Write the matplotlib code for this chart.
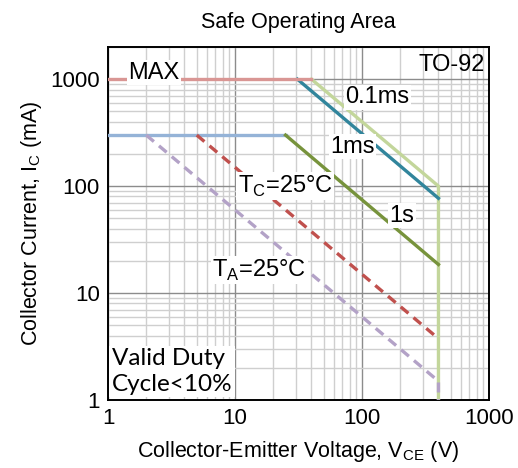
import numpy as np
import matplotlib
matplotlib.use("Agg")
import matplotlib.pyplot as plt
from matplotlib.ticker import LogLocator, FixedLocator, NullFormatter

plt.rcParams['font.family'] = ['Liberation Sans', 'DejaVu Sans']

# SOA boundary points (V_CE in V, I_C in mA)
max_v = [1, 40]
max_i = [1000, 1000]
dc_v = [1, 25]
dc_i = [300, 300]
t01ms_v = [40, 400, 400]
t01ms_i = [1000, 100, 1]
t1ms_v = [31, 400]
t1ms_i = [1000, 77]
t1s_v = [25, 400]
t1s_i = [300, 18.5]
tc_v = [5, 400]
tc_i = [300, 3.75]
ta_v = [2, 400, 400]
ta_i = [300, 1.5, 1]

fig = plt.figure(figsize=(5.18, 4.68), dpi=100)
ax = fig.add_axes([108/518, 68/468, 381/518, 353/468])
ax.set_xscale('log')
ax.set_yscale('log')
ax.set_xlim(1, 1000)
ax.set_ylim(1, 2000)

ax.xaxis.set_major_locator(FixedLocator([1, 10, 100, 1000]))
ax.yaxis.set_major_locator(FixedLocator([1, 10, 100, 1000]))
ax.xaxis.set_minor_locator(LogLocator(base=10, subs=np.arange(2, 10)))
ax.yaxis.set_minor_locator(LogLocator(base=10, subs=np.arange(2, 10)))
ax.xaxis.set_minor_formatter(NullFormatter())
ax.yaxis.set_minor_formatter(NullFormatter())
ax.set_xticklabels(['1', '10', '100', '1000'])
ax.set_yticklabels(['1', '10', '100', '1000'])
ax.tick_params(which='both', length=0, labelsize=16, pad=6)
ax.grid(which='major', color='#8c8c8c', lw=1)
ax.grid(which='minor', color='#cfcfcf', lw=1)
ax.set_axisbelow(True)
for s in ax.spines.values():
    s.set_linewidth(1.4)

lw = 2.4
ax.plot(t01ms_v, t01ms_i, color='#c3d69b', lw=lw, zorder=3)
ax.plot(t1ms_v, t1ms_i, color='#31859c', lw=lw, zorder=3)
ax.plot(max_v, max_i, color='#d99694', lw=lw, zorder=3)
ax.plot(dc_v, dc_i, color='#95b3d7', lw=lw, zorder=3)
ax.plot(t1s_v, t1s_i, color='#77933c', lw=lw, zorder=3)
ax.plot(tc_v, tc_i, color='#c0504d', lw=lw, ls=(0, (3, 2)), zorder=3)
ax.plot(ta_v, ta_i, color='#b3a2c7', lw=lw, ls=(0, (3, 2)), zorder=3)

box = dict(facecolor='white', edgecolor='none', pad=1)
fs = 17
ax.text(1.45, 1150, 'MAX', fontsize=fs, va='center', ha='left', bbox=box, zorder=4)
ax.text(74, 680, '0.1ms', fontsize=fs, va='center', ha='left', bbox=box, zorder=4)
ax.text(56, 234, '1ms', fontsize=fs, va='center', ha='left', bbox=box, zorder=4)
ax.text(10.5, 100, 'T$_\\mathregular{C}$=25°C', fontsize=fs, va='center', ha='left', bbox=box, zorder=4)
ax.text(165, 53, '1s', fontsize=fs, va='center', ha='left', bbox=box, zorder=4)
ax.text(6.6, 16.3, 'T$_\\mathregular{A}$=25°C', fontsize=fs, va='center', ha='left', bbox=box, zorder=4)
ax.text(0.99, 0.98, 'TO-92', fontsize=fs, va='top', ha='right', transform=ax.transAxes, zorder=4)
ax.text(1.07, 1.12, 'Valid Duty\nCycle<10%', fontsize=17.5, va='bottom', ha='left',
        family=['Lato', 'DejaVu Sans'], linespacing=1.25,
        bbox=dict(facecolor='white', edgecolor='none', pad=2), zorder=4)

ax.set_title('Safe Operating Area', fontsize=15.5, pad=14)
ax.set_xlabel('Collector-Emitter Voltage, V$_\\mathregular{CE}$ (V)', fontsize=15.5, labelpad=7)
ax.set_ylabel('Collector Current, I$_\\mathregular{C}$ (mA)', fontsize=15.5, labelpad=4)

fig.savefig('out.png', dpi=100)
